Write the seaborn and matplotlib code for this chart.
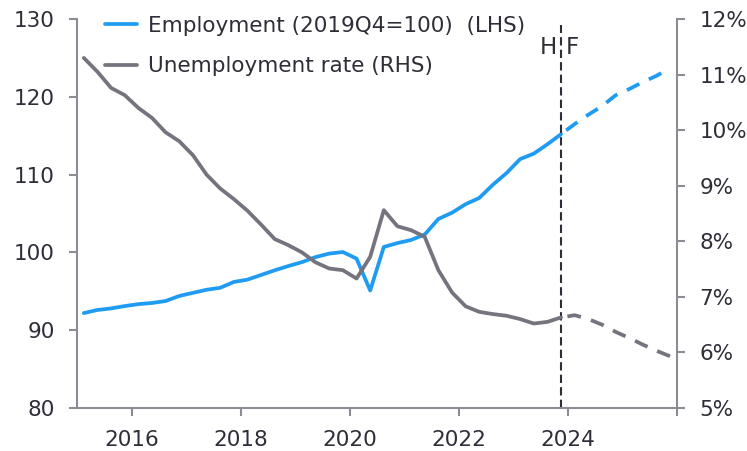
import matplotlib
matplotlib.use("Agg")
import matplotlib.pyplot as plt
from matplotlib.lines import Line2D
from matplotlib.ticker import PercentFormatter
import numpy as np
import pandas as pd
import seaborn as sns

sns.set_style("ticks")
plt.rcParams["font.family"] = ["DejaVu Sans"]

# quarterly, 2015Q1 .. 2025Q4 ; last actual quarter is 2023Q4
quarters = [f"{y}Q{q}" for y in range(2015, 2026) for q in range(1, 5)]
last_actual = "2023Q4"

employment = [92.2, 92.6, 92.8, 93.1, 93.35, 93.5, 93.75, 94.4, 94.8, 95.2,
              95.45, 96.2, 96.5, 97.1, 97.7, 98.25, 98.75, 99.4, 99.85, 100.05,
              99.2, 95.1, 100.7, 101.2, 101.6, 102.3, 104.3, 105.1, 106.2, 107.0,
              108.7, 110.2, 112.0, 112.7, 113.9, 115.2,
              116.5, 117.7, 118.8, 120.2, 121.0, 121.9, 122.7, 123.7]
unemployment = [11.30, 11.05, 10.76, 10.63, 10.40, 10.22, 9.96, 9.80, 9.55, 9.20,
                8.95, 8.76, 8.55, 8.30, 8.04, 7.93, 7.80, 7.62, 7.51, 7.48,
                7.33, 7.72, 8.56, 8.27, 8.20, 8.08, 7.48, 7.08, 6.83, 6.73,
                6.69, 6.66, 6.60, 6.52, 6.55, 6.63,
                6.67, 6.60, 6.50, 6.37, 6.26, 6.14, 6.03, 5.93]

emp_label = "Employment (2019Q4=100)  (LHS)"
unemp_label = "Unemployment rate (RHS)"

blue = "#1f9cf2"
grey = "#74747e"
dark = "#2e2e38"
axis_grey = "#8c8c94"
fs = 15.5
lw = 2.7


def qpos(q):
    # mid-quarter position in decimal years
    return int(q[:4]) + (int(q[-1]) - 1) * 0.25 + 0.125


df = pd.DataFrame({"quarter": quarters, "emp": employment, "unemp": unemployment})
df["t"] = df["quarter"].map(qpos)
cut = qpos(last_actual)
act = df[df["t"] <= cut].assign(seg="Actual")
fc = df[df["t"] >= cut].assign(seg="Forecast")
long = pd.concat([act, fc], ignore_index=True)

dash_map = {"Actual": "", "Forecast": (3.7, 2.8)}

fig = plt.figure(figsize=(7.47, 4.51), dpi=100)
ax = fig.add_axes([77 / 747, 43 / 451, 600 / 747, 389 / 451])
ax2 = ax.twinx()

sns.lineplot(data=long, x="t", y="emp", style="seg", dashes=dash_map,
             color=blue, linewidth=lw, legend=False, ax=ax)
sns.lineplot(data=long, x="t", y="unemp", style="seg", dashes=dash_map,
             color=grey, linewidth=lw, legend=False, ax=ax2)

# forecast dashes start with a short gap after the divider
for a in (ax, ax2):
    for ln in a.lines:
        xd = np.asarray(ln.get_xdata(), dtype=float)
        if xd.size and xd.min() >= cut - 1e-9:
            ln.set_linestyle((4.8, (3.7, 2.8)))
            ln.set_dash_capstyle("butt")

ax.set_xlim(2015, 2026)
ax.set_ylim(80, 130)
ax2.set_ylim(5, 12)
ax.set_xticks(range(2016, 2027, 2))
ax.set_xticklabels([str(y) for y in range(2016, 2025, 2)] + [""])
ax.set_yticks(range(80, 131, 10))
ax2.set_yticks(range(5, 13))
ax2.yaxis.set_major_formatter(PercentFormatter(decimals=0))
ax.set_xlabel("")
ax.set_ylabel("")
ax2.set_ylabel("")

for a in (ax, ax2):
    for side in ("left", "right", "bottom"):
        a.spines[side].set_color(axis_grey)
        a.spines[side].set_linewidth(1.5)
    a.spines["top"].set_visible(False)
    a.tick_params(direction="out", length=6, width=1.5, color=axis_grey,
                  pad=10, labelsize=fs, labelcolor=dark)
ax.spines["right"].set_visible(False)
ax2.spines["left"].set_visible(False)
ax2.spines["bottom"].set_visible(False)

# history / forecast divider
ax.axvline(cut, ymin=0, ymax=0.985, color=dark, linewidth=1.5,
           linestyle=(0, (4, 2)))
ax.text(cut - 0.08, 126.3, "H", ha="right", va="center", fontsize=fs + 1, color=dark)
ax.text(cut + 0.09, 126.3, "F", ha="left", va="center", fontsize=fs + 1, color=dark)

handles = [Line2D([], [], color=blue, linewidth=lw),
           Line2D([], [], color=grey, linewidth=lw)]
leg = ax2.legend(handles, [emp_label, unemp_label], loc="upper left",
                 bbox_to_anchor=(105 / 747, 1 - 16 / 451),
                 bbox_transform=fig.transFigure, frameon=False, fontsize=fs,
                 handlelength=1.5, handletextpad=0.5, labelspacing=0.95,
                 borderpad=0, borderaxespad=0)
for t in leg.get_texts():
    t.set_color(dark)

fig.savefig("out.png", dpi=100)
